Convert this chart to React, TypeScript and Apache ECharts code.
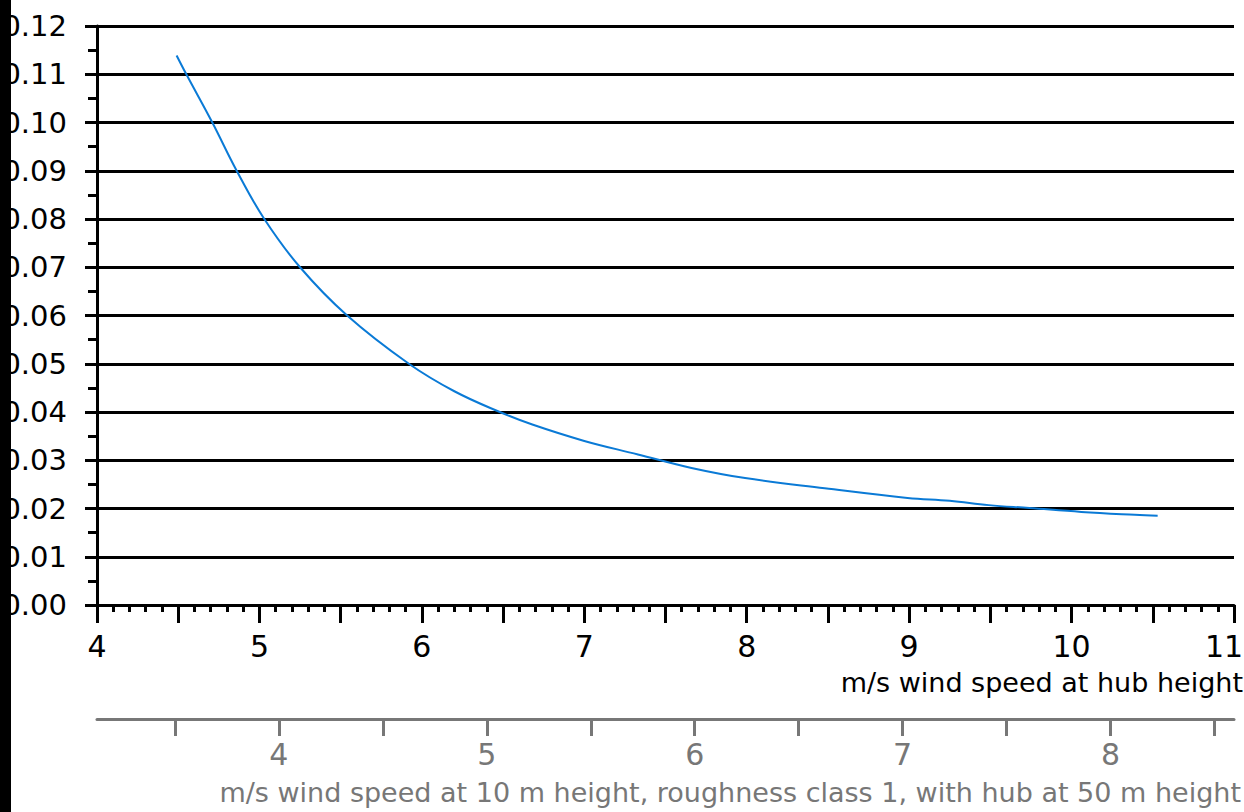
import React, { useEffect, useRef } from "react";
import * as echarts from "echarts";

// Wind speed at hub height (m/s) and cost per kWh
const hubSpeed = [4.49, 4.55, 4.71, 4.86, 5.03, 5.25, 5.54, 5.92, 6.2, 6.48, 6.68, 7.0, 7.33, 7.66, 7.99, 8.48, 8.99, 9.25, 9.49, 9.74, 10.06, 10.39, 10.53];
const costValues = [0.1139, 0.11, 0.1, 0.09, 0.08, 0.07, 0.06, 0.05, 0.0443, 0.04, 0.0374, 0.034, 0.0312, 0.0284, 0.0263, 0.0242, 0.0222, 0.0216, 0.0207, 0.0201, 0.0193, 0.0187, 0.0185];

// Secondary axis: wind speed at 10 m height (hub speed = factor * 10 m speed)
const HUB_FACTOR = 1.28;
const tenMeterTicks = [3.5, 4, 4.5, 5, 5.5, 6, 6.5, 7, 7.5, 8, 8.5];
const tenMeterLabels = [4, 5, 6, 7, 8];

const hubAxisName = "m/s wind speed at hub height";
const tenMeterAxisName = "m/s wind speed at 10 m height, roughness class 1, with hub at 50 m height";

const FONT = "DejaVu Sans";

export default function App() {
  const ref = useRef<HTMLDivElement>(null);

  useEffect(() => {
    if (!ref.current) return;
    const chart = echarts.init(ref.current, null, { renderer: "svg" });
    const data = hubSpeed.map((x, i) => [x, costValues[i]]);
    chart.setOption({
      animation: false,
      backgroundColor: "#ffffff",
      grid: { left: 97, right: 10, top: 26, bottom: 207, containLabel: false, outerBoundsMode: "none" },
      xAxis: [
        {
          type: "value",
          min: 4,
          max: 11,
          interval: 0.5,
          position: "bottom",
          axisLine: { show: true, onZero: false, lineStyle: { color: "#000", width: 3 } },
          axisTick: { show: true, length: 18, lineStyle: { color: "#000", width: 3 } },
          minorTick: { show: true, splitNumber: 5, length: 7, lineStyle: { color: "#000", width: 3 } },
          axisLabel: {
            margin: 26,
            color: "#000",
            fontFamily: FONT,
            fontSize: 30,
            formatter: (v: number) => {
              if (!Number.isInteger(v)) return "";
              if (v === 11) return "{end|11}";
              return String(v);
            },
            rich: {
              end: { fontFamily: FONT, fontSize: 30, color: "#000", padding: [0, 20, 0, 0] },
            },
          },
          splitLine: { show: false },
        },
        {
          type: "value",
          min: 4 / HUB_FACTOR,
          max: 11 / HUB_FACTOR,
          position: "bottom",
          offset: 114,
          axisLine: { show: true, onZero: false, lineStyle: { color: "#777", width: 3 } },
          axisTick: { show: true, length: 17, customValues: tenMeterTicks, lineStyle: { color: "#777", width: 3 } },
          axisLabel: {
            margin: 20,
            color: "#777",
            fontFamily: FONT,
            fontSize: 30,
            customValues: tenMeterLabels,
          },
          splitLine: { show: false },
        },
      ],
      yAxis: {
        type: "value",
        min: 0,
        max: 0.12,
        interval: 0.01,
        axisLine: { show: true, lineStyle: { color: "#000", width: 3 } },
        axisTick: { show: true, length: 12, lineStyle: { color: "#000", width: 3 } },
        minorTick: { show: true, splitNumber: 2, length: 9, lineStyle: { color: "#000", width: 3 } },
        axisLabel: {
          margin: 30,
          color: "#000",
          fontFamily: FONT,
          fontSize: 29,
          formatter: (v: number) => v.toFixed(2),
        },
        splitLine: { show: true, lineStyle: { color: "#000", width: 3 } },
      },
      series: [
        {
          type: "line",
          xAxisIndex: 0,
          data,
          showSymbol: false,
          smooth: 0.4,
          lineStyle: { color: "#0a7ad6", width: 2 },
        },
      ],
      graphic: [
        {
          type: "text",
          z: 50,
          style: {
            text: hubAxisName,
            x: 1243,
            y: 682,
            align: "right",
            verticalAlign: "middle",
            fill: "#000",
            font: `27px "${FONT}"`,
          },
        },
        {
          type: "text",
          z: 50,
          style: {
            text: tenMeterAxisName,
            x: 1241,
            y: 792,
            align: "right",
            verticalAlign: "middle",
            fill: "#777",
            font: `27px "${FONT}"`,
          },
        },
        {
          type: "rect",
          z: 100,
          shape: { x: 0, y: 0, width: 11, height: 812 },
          style: { fill: "#000" },
        },
      ],
    });
    return () => chart.dispose();
  }, []);

  return (
    <div
      ref={ref}
      style={{ position: "fixed", left: 0, top: 0, width: 1244, height: 812 }}
    />
  );
}
